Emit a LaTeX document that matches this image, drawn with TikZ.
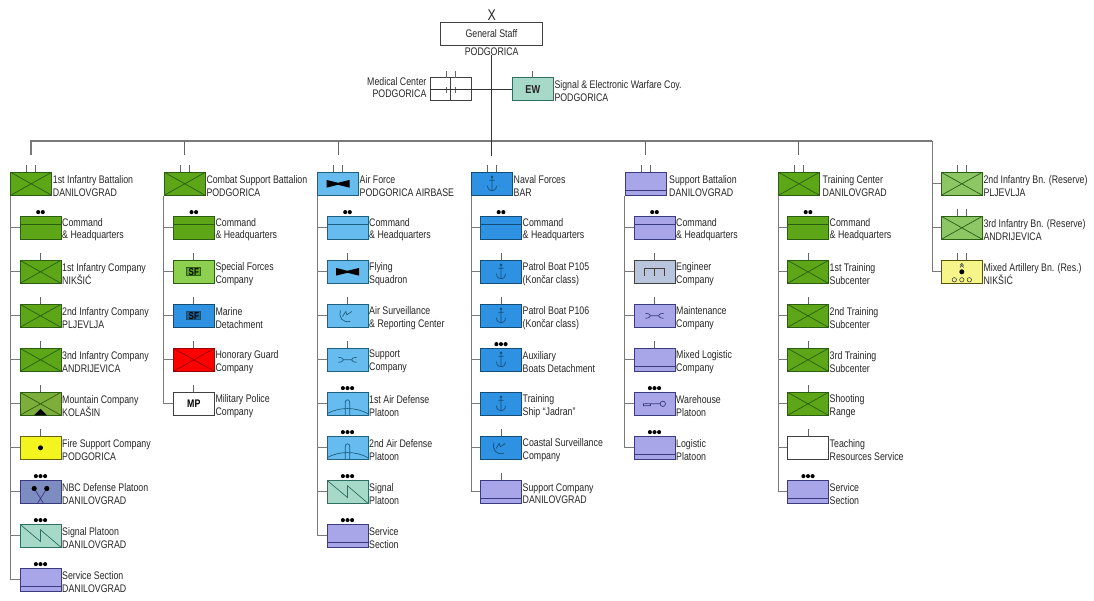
\documentclass[tikz,border=0pt]{standalone}
\usepackage{fontspec}
\setmainfont[FakeStretch=0.80]{Liberation Sans}
\definecolor{inf}{HTML}{5CA617}
\definecolor{infd}{HTML}{2C5E12}
\definecolor{sfg}{HTML}{8DCF4F}
\definecolor{resg}{HTML}{8CC665}
\definecolor{mtn}{HTML}{7DAE3B}
\definecolor{yel}{HTML}{F4F41E}
\definecolor{lyel}{HTML}{F5F58A}
\definecolor{nbc}{HTML}{7D8DC1}
\definecolor{sig}{HTML}{A6D9C7}
\definecolor{sigd}{HTML}{2F6F62}
\definecolor{lav}{HTML}{A8A6E8}
\definecolor{lavd}{HTML}{3A3A80}
\definecolor{air}{HTML}{66BCEE}
\definecolor{aird}{HTML}{1F5F80}
\definecolor{nav}{HTML}{2E91E2}
\definecolor{navd}{HTML}{124F78}
\definecolor{eng}{HTML}{B9C5DD}
\definecolor{conn}{HTML}{7A7A7A}
\tikzset{
  ubox/.style={rectangle,minimum width=41pt,minimum height=23pt,inner sep=0pt,line width=.8pt},
  lab/.style={anchor=west,align=left,inner sep=0pt,text=black!85,font=\fontsize{11}{12.9}\selectfont},
  labr/.style={anchor=east,align=right,inner sep=0pt,text=black!85,font=\fontsize{11}{12.9}\selectfont},
  plain/.style={inner sep=0pt,text=black!85,font=\fontsize{11}{12.9}\selectfont},
  trunk/.style={draw=conn,line width=.9pt},
  bus/.style={draw=conn,line width=1.3pt},
  drop/.style={draw=black!60,line width=.8pt},
  tickline/.style={draw=black!60,line width=.7pt},
  sym/.style={line width=.7pt}
}
% echelons
\newcommand{\ecI}{\draw[tickline] (0,-11.5) -- (0,-18.5);}
\newcommand{\ecII}{\draw[tickline] (-4.5,-11.5) -- (-4.5,-18.5) (4.5,-11.5) -- (4.5,-18.5);}
\newcommand{\ecD}{\fill[black] (-2.3,-15.7) circle (2.05) (2.3,-15.7) circle (2.05);}
\newcommand{\ecT}{\fill[black] (-4.6,-15.7) circle (2.05) (0,-15.7) circle (2.05) (4.6,-15.7) circle (2.05);}
\newcommand{\ecN}{}
% symbols
\newcommand{\sN}{}
\newcommand{\sX}{\draw[sym] (-20.5,-11.5) -- (20.5,11.5) (-20.5,11.5) -- (20.5,-11.5);}
\newcommand{\sCmd}{\draw[sym] (-20.5,-3.5) -- (20.5,-3.5);}
\newcommand{\sLog}{\draw[sym] (-20.5,6.9) -- (20.5,6.9);}
\newcommand{\sSig}{\draw[sym] (-20.5,-11.5) -- (0,5.7) -- (0,-6) -- (20.5,11.5);}
\newcommand{\sBow}{\fill[black] (-11.5,-3.8) -- (-8,-3) -- (0,-1) -- (8,-3) -- (11.5,-3.8) -- (11.5,3.8) -- (8,3) -- (0,1) -- (-8,3) -- (-11.5,3.8) -- cycle;}
\newcommand{\sAnc}{\draw[sym] (0,-7) circle (1) (0,-6) -- (0,7) (-2.6,-3.5) -- (2.6,-3.5) (-4.6,2) .. controls (-4,6) and (-2,7) .. (0,7) .. controls (2,7) and (4,6) .. (4.6,2);}
\newcommand{\sRad}{\draw[sym] (-7,-5.3) .. controls (-9,2) and (-5,7) .. (2.7,5.7) (-5,.7) -- (-1.7,-4.3) -- (-.7,-1) -- (4.3,-4.3);}
\newcommand{\sWr}{\draw[sym] (-9,-2.5) .. controls (-6,-2.8) and (-5,-1.5) .. (-4,0) .. controls (-5,1.5) and (-6,2.8) .. (-9,2.5) (-4,0) -- (4,0) (9,-2.5) .. controls (6,-2.8) and (5,-1.5) .. (4,0) .. controls (5,1.5) and (6,2.8) .. (9,2.5);}
\newcommand{\sAD}{\draw[sym] (-20.5,10) .. controls (-9,3) and (9,3) .. (20.5,10) (-2.2,11.5) -- (-2.2,-1.5) .. controls (-2.2,-3) and (-1.2,-4) .. (0,-4) .. controls (1.2,-4) and (2.2,-3) .. (2.2,-1.5) -- (2.2,11.5);}
\newcommand{\sEng}{\draw[sym] (-10.3,3.7) -- (-10.3,-3.3) -- (10.3,-3.3) -- (10.3,3.7) (0,-3.3) -- (0,3.7);}
\newcommand{\sWh}{\draw[sym] (8.3,0) circle (2.7) (5.6,0) -- (-4,0) (-11,0) rectangle (-4,2);}
\newcommand{\sMtn}{\sX\fill[black] (-6.5,11.5) -- (0,5) -- (6.5,11.5) -- cycle;}
\newcommand{\sFire}{\fill[black] (0,0) circle (2.5);}
\newcommand{\sNBC}{\draw[sym] (-6.3,-3.3) -- (3,11.5) (6.3,-3.3) -- (-3,11.5);\fill[black] (-6.3,-3.3) circle (2.6) (6.3,-3.3) circle (2.6);}
\newcommand{\sArt}{\fill[black] (0,0) circle (2.5);\draw[sym,black!70] (-1.8,-4.4) -- (0,-6.4) -- (1.8,-4.4) (-1.8,-6.4) -- (0,-8.4) -- (1.8,-6.4);\draw[line width=.55pt,black!80] (-7.5,8) circle (2.2) (0,8) circle (2.2) (7.5,8) circle (2.2);}
\newcommand{\sSFg}{\draw[sym,fill=inf,draw=infd] (-7,-4) rectangle (7,4);\node[inner sep=0pt,text=black,font=\bfseries\fontsize{10}{10}\selectfont] at (0,0) {SF};}
\newcommand{\sSFb}{\draw[sym,fill=navd!70!nav,draw=navd] (-7,-4) rectangle (7,4);\node[inner sep=0pt,text=black,font=\bfseries\fontsize{10}{10}\selectfont] at (0,0) {SF};}
\newcommand{\sMP}{\node[inner sep=0pt,text=black,font=\bfseries\fontsize{11}{10}\selectfont] at (0,0) {MP};}
\newcommand{\sEW}{\node[inner sep=0pt,text=black!85,font=\bfseries\fontsize{11.5}{10}\selectfont] at (0,0) {EW};}
% name, left, top, fill, outline, symbol, echelon, text
\newcommand{\unit}[8]{%
  \node[ubox,fill=#4,draw=#5] (#1) at (#2+20.5,#3+11.5) {};
  \begin{scope}[shift={(#1.center)},color=#5]#6#7\end{scope}
  \node[lab] (#1t) at ([xshift=.6pt,yshift=-1.9pt]#1.east) {#8};
}
\newcommand{\stub}[2]{\draw[trunk] (#2.west) -- (#2.west -| #1.west);}
\begin{document}
\begin{tikzpicture}[x=1pt,y=-1pt]
\useasboundingbox (0,0) rectangle (1094,600);
% headquarters
\node[draw=black!75,line width=.8pt,minimum width=101.3pt,minimum height=23pt,inner sep=0pt,plain] (gs) at (491.4,33.8) {General Staff};
\node[inner sep=0pt,text=black!85,font=\fontsize{15.5}{15}\selectfont] (gsx) at (491.7,15) {X};
\node[plain] (gsp) at (491.7,51.3) {PODGORICA};
\node[ubox,fill=white,draw=black!75] (med) at (450.5,89.3) {};
\draw[tickline] (446,77.8) -- (446,70.8) (455,77.8) -- (455,70.8);
\draw[tickline] (446,86.5) -- (446,93) (455,86.5) -- (455,93);
\draw[black!75,line width=.7pt] (med.north) -- (med.south);
\node[labr] (medt) at ([xshift=-3pt,yshift=1.7pt]med.west) {Medical Center\\PODGORICA};
\unit{ew}{512.3}{77.8}{sig}{sigd}{\sEW}{\ecI}{Signal \& Electronic Warfare Coy.\\PODGORICA}
\draw[black!80,line width=.7pt] (med.west) -- (ew.west);
% bus
\coordinate (busl) at (31,141);
\coordinate (busr) at (932,141);
\coordinate (d1) at (31,155);
\coordinate (d2) at (184.5,155);
\coordinate (d3) at (338,155);
\coordinate (d4) at (491.7,155.5);
\coordinate (d5) at (645.3,155);
\coordinate (d6) at (798.7,155);
\draw[bus] (d1) -- (busl) -- (busr);
\draw[drop] (busl -| d2) -- (d2);
\draw[drop] (busl -| d3) -- (d3);
\draw[drop] (busl -| d5) -- (d5);
\draw[drop] (busl -| d6) -- (d6);
\draw[black!80,line width=.8pt] (gsp.south) -- (d4);
% column 1
\unit{a0}{10.7}{172.3}{inf}{infd}{\sX}{\ecII}{1st Infantry Battalion\\DANILOVGRAD}
\unit{a1}{20}{216.3}{inf}{infd}{\sCmd}{\ecD}{Command\\\& Headquarters}
\unit{a2}{20}{260.3}{inf}{infd}{\sX}{\ecI}{1st Infantry Company\\NIKŠIĆ}
\unit{a3}{20}{304.3}{inf}{infd}{\sX}{\ecI}{2nd Infantry Company\\PLJEVLJA}
\unit{a4}{20}{348.3}{inf}{infd}{\sX}{\ecI}{3nd Infantry Company\\ANDRIJEVICA}
\unit{a5}{20}{392.3}{mtn}{infd}{\sMtn}{\ecI}{Mountain Company\\KOLAŠIN}
\unit{a6}{20}{436.3}{yel}{black!60!yel}{\sFire}{\ecI}{Fire Support Company\\PODGORICA}
\unit{a7}{20}{480.3}{nbc}{lavd}{\sNBC}{\ecT}{NBC Defense Platoon\\DANILOVGRAD}
\unit{a8}{20}{524.3}{sig}{sigd}{\sSig}{\ecT}{Signal Platoon\\DANILOVGRAD}
\unit{a9}{20}{568.3}{lav}{lavd}{\sLog}{\ecT}{Service Section\\DANILOVGRAD}
\draw[trunk] (a0.south west) |- (a9.west);
\foreach \n in {a1,a2,a3,a4,a5,a6,a7,a8}{\stub{a0}{\n}}
% column 2
\unit{b0}{164.3}{172.3}{inf}{infd}{\sX}{\ecII}{Combat Support Battalion\\PODGORICA}
\unit{b1}{173.3}{216.3}{inf}{infd}{\sCmd}{\ecD}{Command\\\& Headquarters}
\unit{b2}{173.3}{260.3}{sfg}{infd}{\sSFg}{\ecI}{Special Forces\\Company}
\unit{b3}{173.3}{304.3}{nav}{navd}{\sSFb}{\ecI}{Marine\\Detachment}
\unit{b4}{173.3}{348.3}{red}{red!60!black}{\sX}{\ecI}{Honorary Guard\\Company}
\unit{b5}{173.3}{392.3}{white}{black!75}{\sMP}{\ecI}{Military Police\\Company}
\draw[trunk] (b0.south west) |- (b5.west);
\foreach \n in {b1,b2,b3,b4}{\stub{b0}{\n}}
% column 3
\unit{c0}{317.5}{172.3}{air}{aird}{\sBow}{\ecII}{Air Force\\PODGORICA AIRBASE}
\unit{c1}{327}{216.3}{air}{aird}{\sCmd}{\ecD}{Command\\\& Headquarters}
\unit{c2}{327}{260.3}{air}{aird}{\sBow}{\ecI}{Flying\\Squadron}
\unit{c3}{327}{304.3}{air}{aird}{\sRad}{\ecI}{Air Surveillance\\\& Reporting Center}
\unit{c4}{327}{348.3}{air}{aird}{\sWr}{\ecI}{Support\\Company}
\unit{c5}{327}{392.3}{air}{aird}{\sAD}{\ecT}{1st Air Defense\\Platoon}
\unit{c6}{327}{436.3}{air}{aird}{\sAD}{\ecT}{2nd Air Defense\\Platoon}
\unit{c7}{327}{480.3}{sig}{sigd}{\sSig}{\ecT}{Signal\\Platoon}
\unit{c8}{327}{524.3}{lav}{lavd}{\sLog}{\ecT}{Service\\Section}
\draw[trunk] (c0.south west) |- (c8.west);
\foreach \n in {c1,c2,c3,c4,c5,c6,c7}{\stub{c0}{\n}}
% column 4
\unit{d0}{471.5}{172.3}{nav}{navd}{\sAnc}{\ecII}{Naval Forces\\BAR}
\unit{e1}{480.5}{216.3}{nav}{navd}{\sCmd}{\ecD}{Command\\\& Headquarters}
\unit{e2}{480.5}{260.3}{nav}{navd}{\sAnc}{\ecI}{Patrol Boat P105\\(Končar class)}
\unit{e3}{480.5}{304.3}{nav}{navd}{\sAnc}{\ecI}{Patrol Boat P106\\(Končar class)}
\unit{e4}{480.5}{348.3}{nav}{navd}{\sAnc}{\ecT}{Auxiliary\\Boats Detachment}
\unit{e5}{480.5}{392.3}{nav}{navd}{\sAnc}{\ecN}{Training\\Ship “Jadran”}
\unit{e6}{480.5}{436.3}{nav}{navd}{\sRad}{\ecI}{Coastal Surveillance\\Company}
\unit{e7}{480.5}{480.3}{lav}{lavd}{\sLog}{\ecI}{Support Company\\DANILOVGRAD}
\draw[trunk] (d0.south west) |- (e7.west);
\foreach \n in {e1,e2,e3,e4,e5,e6}{\stub{d0}{\n}}
% column 5
\unit{f0}{625}{172.3}{lav}{lavd}{\sLog}{\ecII}{\hspace*{2pt}Support Battalion\\\hspace*{2pt}DANILOVGRAD}
\unit{f1}{634}{216.3}{lav}{lavd}{\sCmd}{\ecD}{Command\\\& Headquarters}
\unit{f2}{634}{260.3}{eng}{black!75}{\sEng}{\ecI}{Engineer\\Company}
\unit{f3}{634}{304.3}{lav}{lavd}{\sWr}{\ecI}{Maintenance\\Company}
\unit{f4}{634}{348.3}{lav}{lavd}{\sLog}{\ecI}{Mixed Logistic\\Company}
\unit{f5}{634}{392.3}{lav}{lavd}{\sWh}{\ecT}{Warehouse\\Platoon}
\unit{f6}{634}{436.3}{lav}{lavd}{\sLog}{\ecT}{Logistic\\Platoon}
\draw[trunk] (f0.south west) |- (f6.west);
\foreach \n in {f1,f2,f3,f4,f5}{\stub{f0}{\n}}
% column 6
\unit{g0}{778.5}{172.3}{inf}{infd}{\sX}{\ecII}{\hspace*{2pt}Training Center\\\hspace*{2pt}DANILOVGRAD}
\unit{g1}{787.5}{216.3}{inf}{infd}{\sCmd}{\ecD}{Command\\\& Headquarters}
\unit{g2}{787.5}{260.3}{inf}{infd}{\sX}{\ecI}{1st Training\\Subcenter}
\unit{g3}{787.5}{304.3}{inf}{infd}{\sX}{\ecI}{2nd Training\\Subcenter}
\unit{g4}{787.5}{348.3}{inf}{infd}{\sX}{\ecI}{3rd Training\\Subcenter}
\unit{g5}{787.5}{392.3}{inf}{infd}{\sX}{\ecI}{Shooting\\Range}
\unit{g6}{787.5}{436.3}{white}{black!75}{\sN}{\ecI}{Teaching\\Resources Service}
\unit{g7}{787.5}{480.3}{lav}{lavd}{\sLog}{\ecT}{Service\\Section}
\draw[trunk] (g0.south west) |- (g7.west);
\foreach \n in {g1,g2,g3,g4,g5,g6}{\stub{g0}{\n}}
% column 7
\unit{h1}{941.3}{172.3}{resg}{infd}{\sX}{\ecII}{2nd Infantry Bn. (Reserve)\\PLJEVLJA}
\unit{h2}{941.3}{216.3}{resg}{infd}{\sX}{\ecII}{3rd Infantry Bn. (Reserve)\\ANDRIJEVICA}
\unit{h3}{941.3}{260.3}{lyel}{black!65!yel}{\sArt}{\ecII}{Mixed Artillery Bn. (Res.)\\NIKŠIĆ}
\draw[trunk] (busr) |- (h3.west);
\stub{busr}{h1}
\stub{busr}{h2}
\end{tikzpicture}
\end{document}
